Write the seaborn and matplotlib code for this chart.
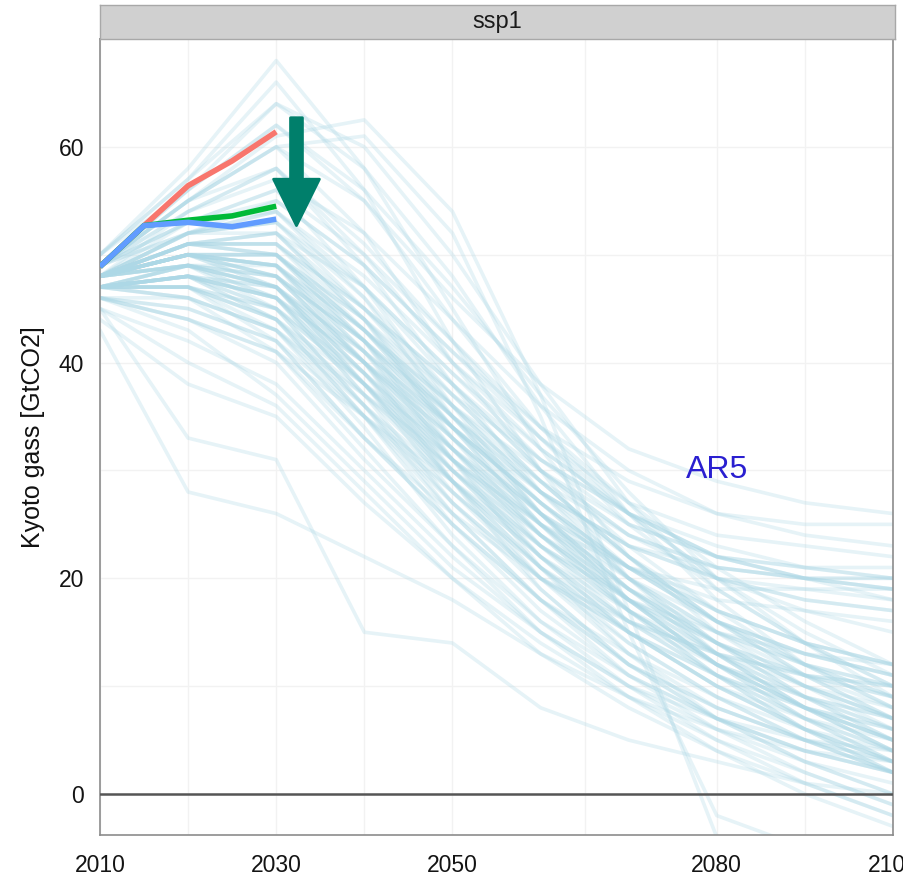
import numpy as np
import pandas as pd
import matplotlib
matplotlib.use("Agg")
import matplotlib.pyplot as plt
from matplotlib.patches import FancyArrow
import seaborn as sns

# ---------------- data ----------------
years = [2010, 2020, 2030, 2040, 2050, 2060, 2070, 2080, 2090, 2100]

ar5_high = [
    [50, 58, 68, 58, 45, 32, 22, 15, 10, 6],
    [50, 57, 66, 56, 42, 30, 20, 13, 8, 4],
    [49, 56, 64, 60, 50, 38, 27, 19, 14, 10],
    [49, 55, 61, 62.5, 54, 37, 17, -4, -6, -6],
    [49, 55, 60, 61, 52, 35, 15, -2, -5, -5],
    [50, 56, 62, 55, 44, 34, 26, 20, 18, 17],
    [49, 55, 60, 52, 40, 30, 24, 21, 20, 19],
    [48, 54, 58, 50, 40, 32, 26, 22, 21, 20],
    [49, 55, 58, 49, 38, 28, 21, 16, 13, 11],
    [48, 53, 56, 47, 36, 26, 18, 12, 8, 5],
    [50, 57, 64, 58, 48, 36, 26, 18, 12, 8],
    [49, 56, 62, 56, 47, 37, 28, 20, 14, 9],
    [49, 55, 60, 55, 46, 38, 32, 29, 27, 26],
    [49, 54, 57, 52, 44, 36, 30, 26, 24, 23],
    [49, 53, 56, 50, 42, 34, 27, 21, 16, 12],
    [49, 54, 58, 51, 42, 33, 25, 19, 14, 10],
    [48, 52, 55, 49, 41, 33, 26, 20, 15, 11],
]

ar5_mid = [
    [48, 52, 54, 46, 35, 26, 19, 14, 10, 7],
    [48, 51, 52, 44, 33, 24, 17, 12, 8, 5],
    [48, 50, 50, 42, 32, 23, 16, 11, 7, 4],
    [48, 50, 49, 41, 31, 22, 15, 10, 6, 3],
    [47, 49, 48, 40, 30, 22, 16, 12, 9, 7],
    [48, 51, 51, 43, 34, 27, 21, 17, 14, 12],
    [48, 50, 47, 38, 28, 20, 14, 9, 5, 2],
    [47, 48, 46, 37, 27, 19, 12, 7, 3, 0],
    [47, 48, 45, 36, 26, 18, 11, 6, 2, -1],
    [48, 49, 47, 39, 30, 23, 18, 15, 13, 12],
    [47, 47, 44, 35, 25, 17, 11, 7, 4, 2],
    [48, 50, 48, 41, 33, 26, 21, 18, 17, 16],
    [48, 52, 53, 45, 36, 28, 23, 21, 20, 20],
    [47, 48, 45, 38, 31, 25, 21, 19, 19, 18],
    [48, 49, 46, 37, 29, 22, 17, 13, 10, 8],
    [47, 47, 43, 34, 24, 16, 10, 5, 1, -2],
    [48, 51, 50, 42, 31, 21, 13, 7, 3, 0],
    [48, 50, 49, 40, 29, 19, 12, 7, 4, 2],
    [47, 49, 47, 39, 29, 20, 13, 8, 5, 3],
    [48, 51, 52, 47, 39, 31, 25, 22, 21, 21],
    [48, 52, 54, 48, 40, 33, 27, 24, 23, 22],
    [49, 53, 55, 49, 41, 34, 29, 26, 25, 25],
    [47, 48, 44, 36, 28, 21, 16, 13, 11, 10],
    [48, 50, 48, 42, 35, 28, 22, 17, 14, 12],
    [47, 47, 42, 33, 25, 18, 13, 9, 6, 4],
    [47, 46, 41, 32, 23, 15, 9, 4, 0, -3],
    [48, 49, 45, 36, 27, 20, 15, 11, 8, 6],
    [48, 50, 47, 38, 29, 21, 15, 10, 7, 5],
    [47, 48, 44, 35, 26, 18, 12, 8, 5, 3],
    [48, 49, 46, 38, 30, 23, 17, 12, 9, 7],
    [48, 51, 50, 44, 37, 31, 26, 23, 21, 20],
    [48, 50, 49, 43, 35, 28, 23, 20, 19, 19],
    [48, 51, 51, 45, 38, 30, 23, 17, 12, 8],
    [47, 49, 49, 43, 36, 29, 22, 16, 11, 7],
    [48, 50, 50, 44, 36, 28, 20, 14, 9, 5],
    [47, 48, 47, 41, 34, 27, 20, 14, 9, 5],
    [48, 49, 48, 42, 34, 26, 19, 13, 8, 4],
    [47, 48, 46, 40, 33, 26, 19, 13, 8, 4],
    [48, 50, 49, 42, 33, 25, 18, 12, 8, 5],
    [47, 49, 48, 40, 31, 23, 17, 12, 8, 5],
    [48, 51, 52, 45, 37, 29, 22, 16, 11, 7],
    [48, 50, 50, 43, 35, 27, 20, 15, 11, 8],
    [49, 52, 53, 46, 37, 29, 22, 16, 12, 9],
    [47, 48, 47, 40, 32, 25, 19, 14, 10, 7],
    [48, 50, 48, 40, 32, 24, 18, 13, 9, 6],
    [47, 49, 47, 39, 31, 24, 18, 14, 11, 9],
    [48, 49, 47, 40, 33, 26, 20, 15, 12, 10],
    [47, 47, 45, 39, 32, 25, 19, 14, 10, 7],
    [48, 50, 49, 41, 32, 24, 17, 11, 6, 2],
    [48, 51, 51, 44, 35, 26, 18, 12, 7, 3],
    [47, 48, 46, 39, 31, 24, 18, 13, 9, 6],
    [48, 49, 47, 41, 34, 27, 21, 16, 12, 9],
    [47, 48, 46, 38, 30, 22, 15, 10, 6, 3],
    [48, 50, 49, 42, 34, 27, 21, 16, 13, 11],
    [48, 52, 52, 44, 34, 25, 18, 12, 7, 3],
    [49, 53, 54, 47, 38, 30, 24, 20, 17, 15],
    [48, 51, 50, 43, 36, 30, 25, 22, 20, 19],
    [47, 47, 44, 37, 30, 24, 19, 15, 12, 10],
    [48, 50, 50, 43, 34, 25, 17, 11, 6, 2],
    [49, 52, 53, 47, 39, 32, 26, 22, 20, 18],
    [48, 51, 51, 45, 38, 31, 26, 22, 20, 20],
    [48, 50, 48, 42, 35, 29, 24, 21, 20, 19],
    [47, 48, 46, 40, 34, 28, 23, 20, 18, 17],
]

ar5_low = [
    [46, 44, 40, 31, 23, 16, 11, 7, 4, 2],
    [45, 42, 38, 30, 22, 15, 10, 6, 3, 1],
    [46, 43, 37, 29, 21, 15, 10, 7, 5, 4],
    [45, 33, 31, 15, 14, 8, 5, 3, 1, 0],
    [44, 38, 35, 27, 20, 14, 9, 5, 2, -1],
    [46, 45, 42, 33, 25, 18, 12, 8, 5, 2],
    [43, 28, 26, 22, 18, 13, 9, 6, 4, 3],
    [45, 40, 36, 28, 20, 13, 8, 4, 1, -2],
    [47, 46, 43, 35, 27, 20, 15, 11, 8, 6],
    [46, 44, 41, 33, 26, 20, 16, 13, 11, 10],
    [46, 46, 43, 36, 29, 22, 16, 11, 7, 4],
    [46, 45, 42, 35, 28, 21, 15, 10, 6, 3],
    [47, 47, 45, 38, 29, 21, 14, 9, 5, 2],
    [47, 46, 43, 37, 31, 25, 20, 16, 13, 11],
    [46, 44, 41, 35, 29, 23, 18, 14, 11, 9],
    [47, 47, 44, 38, 32, 26, 21, 17, 14, 12],
]

scen_years = [2010, 2015, 2020, 2025, 2030]
scen_names = ["high", "mid", "low"]
scen_high = [48.9, 52.7, 56.4, 58.7, 61.4]
scen_mid = [48.9, 52.7, 53.2, 53.6, 54.5]
scen_low = [48.9, 52.7, 53.0, 52.6, 53.3]
scen_colors = ["#F8766D", "#00BA38", "#619CFF"]

x_ticks = [2010, 2030, 2050, 2080, 2100]
y_ticks = [0, 20, 40, 60]

# ---------------- tables ----------------
rows = []
run = 0
for group in (ar5_high, ar5_mid, ar5_low):
    for path in group:
        for yr, v in zip(years, path):
            rows.append({"run": run, "year": yr, "value": v})
        run += 1
ar5_df = pd.DataFrame(rows)

srows = []
for name, vals in zip(scen_names, (scen_high, scen_mid, scen_low)):
    for yr, v in zip(scen_years, vals):
        srows.append({"scenario": name, "year": yr, "value": v})
scen_df = pd.DataFrame(srows)

# ---------------- figure ----------------
sns.set_style("white")
plt.rcParams["font.family"] = ["Liberation Sans", "DejaVu Sans"]

W, H = 904, 876
fig = plt.figure(figsize=(W / 100, H / 100), dpi=100)
ax = fig.add_axes([100 / W, 1 - 835 / H, 793 / W, 796 / H])

# grid (major + minor, all faint)
for gx in [2010, 2020, 2030, 2040, 2050, 2065, 2080, 2090, 2100]:
    ax.axvline(gx, color="#F2F2F2", lw=1.0, zorder=0)
for gy in [0, 10, 20, 30, 40, 50, 60]:
    ax.axhline(gy, color="#F2F2F2", lw=1.0, zorder=0)

sns.lineplot(data=ar5_df, x="year", y="value", units="run", estimator=None,
             color="#ADD8E6", alpha=0.3, lw=2.6, ax=ax, legend=False, zorder=2)

ax.axhline(0, color="#555555", lw=1.8, zorder=3)

sns.lineplot(data=scen_df, x="year", y="value", hue="scenario",
             hue_order=scen_names, palette=scen_colors, lw=4.0,
             ax=ax, legend=False, zorder=4, solid_capstyle="butt")

# arrow
arrow = FancyArrow(2032.3, 62.7, 0, -10.0, width=1.35, head_width=5.2,
                   head_length=4.3, length_includes_head=True,
                   facecolor="#007F6B", edgecolor="#007F6B", lw=2.0,
                   joinstyle="round", zorder=5)
ax.add_patch(arrow)

ax.text(2080.0, 30.0, "AR5", color="#2A1FD0", fontsize=23,
        ha="center", va="center", zorder=6)

ax.set_xlim(2010, 2100)
ax.set_ylim(-3.8, 70.0)
ax.set_xticks(x_ticks)
ax.set_xticklabels([str(t) for t in x_ticks])
ax.set_yticks(y_ticks)
ax.set_xlabel("")
ax.set_ylabel("Kyoto gass [GtCO2]", fontsize=18, color="#111111")
ax.yaxis.set_label_coords(-0.069, 0.5)
ax.tick_params(axis="both", direction="out", length=6.5, width=1.3,
               color="#333333", labelsize=16.5, labelcolor="#141414", pad=5)
ax.tick_params(axis="x", pad=7)
for s in ax.spines.values():
    s.set_color("#8C8C8C")
    s.set_linewidth(1.2)
    s.set_visible(True)

# facet strip
sax = fig.add_axes([100 / W, 1 - 39 / H, 795 / W, 34 / H])
sax.set_facecolor("#D0D0D0")
sax.set_xticks([])
sax.set_yticks([])
for s in sax.spines.values():
    s.set_color("#A8A8A8")
    s.set_linewidth(1.0)
sax.text(0.5, 0.5, "ssp1", ha="center", va="center", fontsize=17,
         color="#1A1A1A", transform=sax.transAxes)

fig.savefig("out.png", dpi=100)
